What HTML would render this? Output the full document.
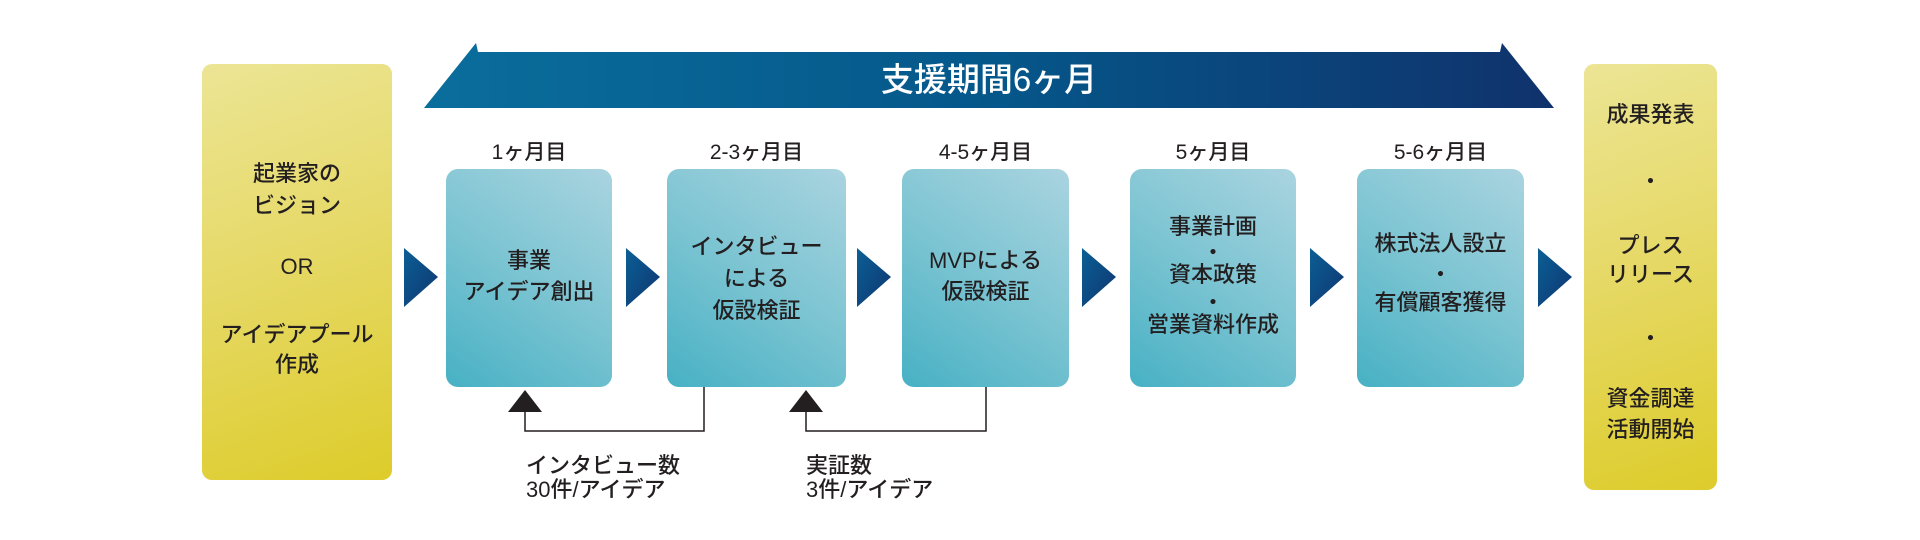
<!DOCTYPE html>
<html><head><meta charset="utf-8">
<style>
html,body{margin:0;padding:0;background:#fff;}
#c{position:relative;width:1920px;height:540px;overflow:hidden;font-family:"Liberation Sans","Noto Sans CJK JP",sans-serif;color:#231f20;}
.y{position:absolute;border-radius:10px;background:linear-gradient(160deg,#ece595 0%,#e6d968 45%,#ddcc2a 100%);}
.b{position:absolute;top:169px;height:218px;border-radius:12px;background:linear-gradient(35deg,#47b1c4 0%,#7cc4d2 50%,#aad4e0 100%);}
.t{position:absolute;left:0;width:100%;text-align:center;font-size:22px;font-weight:500;line-height:1;white-space:nowrap;transform:translateY(-50%);}
.m{position:absolute;top:136px;font-size:21px;font-weight:500;text-align:center;white-space:nowrap;}
.l{position:absolute;font-size:22px;font-weight:500;line-height:24px;white-space:nowrap;}
</style></head><body><div id="c">
<svg width="1920" height="540" style="position:absolute;left:0;top:0">
<defs>
<linearGradient id="bg" x1="0" x2="1" y1="0" y2="0"><stop offset="0" stop-color="#0a6e9c"/><stop offset="0.5" stop-color="#05578a"/><stop offset="1" stop-color="#10326c"/></linearGradient>
<linearGradient id="ag" x1="0" x2="1" y1="0" y2="1"><stop offset="0" stop-color="#0b5f95"/><stop offset="1" stop-color="#0f3570"/></linearGradient>
</defs>
<polygon points="424,108 476,43 478,52 1500,52 1502,43 1554,108" fill="url(#bg)"/>
<g fill="url(#ag)">
<polygon points="404,248 438,277 404,307"/>
<polygon points="626,248 660,277 626,307"/>
<polygon points="857,248 891,277 857,307"/>
<polygon points="1082,248 1116,277 1082,307"/>
<polygon points="1310,248 1344,277 1310,307"/>
<polygon points="1538,248 1572,277 1538,307"/>
</g>
<g fill="none" stroke="#231f20" stroke-width="1.5">
<polyline points="704,387 704,431 525,431 525,408"/>
<polyline points="986,387 986,431 806,431 806,408"/>
</g>
<polygon points="525,390 508,412 542,412" fill="#231f20"/>
<polygon points="806,390 789,412 823,412" fill="#231f20"/>
</svg>
<div style="position:absolute;left:424px;width:1130px;top:60px;text-align:center;color:#fff;font-size:33px;font-weight:500;line-height:40px;">支援期間6ヶ月</div>

<div class="y" style="left:202px;top:64px;width:190px;height:416px;">
<div class="t" style="top:110px">起業家の</div>
<div class="t" style="top:142px">ビジョン</div>
<div class="t" style="top:203px">OR</div>
<div class="t" style="top:271px">アイデアプール</div>
<div class="t" style="top:301px">作成</div>
</div>
<div class="y" style="left:1584px;top:64px;width:133px;height:426px;">
<div class="t" style="top:51px">成果発表</div>
<div class="t" style="top:118px">・</div>
<div class="t" style="top:182px">プレス</div>
<div class="t" style="top:211px">リリース</div>
<div class="t" style="top:275px">・</div>
<div class="t" style="top:335px">資金調達</div>
<div class="t" style="top:366px">活動開始</div>
</div>

<div class="m" style="left:446px;width:166px">1ヶ月目</div>
<div class="m" style="left:667px;width:179px">2-3ヶ月目</div>
<div class="m" style="left:902px;width:167px">4-5ヶ月目</div>
<div class="m" style="left:1130px;width:166px">5ヶ月目</div>
<div class="m" style="left:1357px;width:167px">5-6ヶ月目</div>

<div class="b" style="left:446px;width:166px">
<div class="t" style="top:92px">事業</div>
<div class="t" style="top:123px">アイデア創出</div>
</div>
<div class="b" style="left:667px;width:179px">
<div class="t" style="top:78px">インタビュー</div>
<div class="t" style="top:110px">による</div>
<div class="t" style="top:142px">仮設検証</div>
</div>
<div class="b" style="left:902px;width:167px">
<div class="t" style="top:92px">MVPによる</div>
<div class="t" style="top:123px">仮設検証</div>
</div>
<div class="b" style="left:1130px;width:166px">
<div class="t" style="top:58px">事業計画</div>
<div class="t" style="top:84px">・</div>
<div class="t" style="top:106px">資本政策</div>
<div class="t" style="top:134px">・</div>
<div class="t" style="top:156px">営業資料作成</div>
</div>
<div class="b" style="left:1357px;width:167px">
<div class="t" style="top:75px">株式法人設立</div>
<div class="t" style="top:106px">・</div>
<div class="t" style="top:134px">有償顧客獲得</div>
</div>

<div class="l" style="left:526px;top:454px">インタビュー数<br>30件/アイデア</div>
<div class="l" style="left:806px;top:454px">実証数<br>3件/アイデア</div>
</div></body></html>
